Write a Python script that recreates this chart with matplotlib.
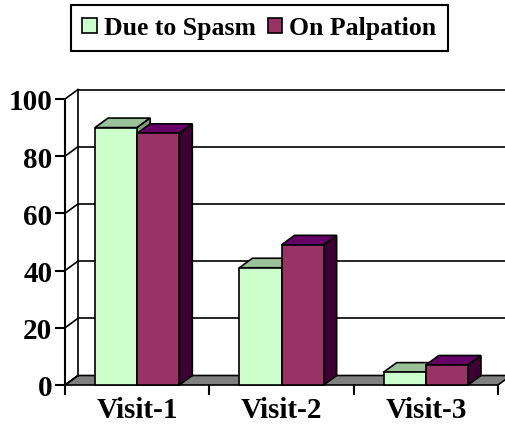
import numpy as np
import matplotlib.pyplot as plt
from matplotlib.patches import Polygon, Patch

# Data
categories = ['Visit-1', 'Visit-2', 'Visit-3']
series_names = ['Due to Spasm', 'On Palpation']
due_to_spasm = [90, 41, 4.5]
on_palpation = [88, 49, 7]
y_ticks = [0, 20, 40, 60, 80, 100]

# Colours (front, top, side)
colors = [('#CCFFCC', '#99C299', '#7FA07F'),
          ('#993366', '#660066', '#3D0033')]

plt.rcParams['font.family'] = ['Liberation Serif', 'DejaVu Serif']
plt.rcParams['font.weight'] = 'bold'

W, H = 506, 427
fig = plt.figure(figsize=(W / 100, H / 100), dpi=100)
# front plane of the chart, in pixels
left, right, y0, y100 = 65, 498, 386, 100
ax = fig.add_axes([left / W, (H - y0) / H, (right - left) / W, (y0 - y100) / H])
ax.set_xlim(0, len(categories))
ax.set_ylim(0, 100)

# depth offset (pixels -> data units)
DX, DY = 13, 9.5
ddx = DX * len(categories) / (right - left)
ddy = DY * 100 / (y0 - y100)

# floor
ax.add_patch(Polygon([(0, 0), (3, 0), (3 + ddx, ddy), (ddx, ddy)], closed=True,
                     facecolor='#808080', edgecolor='black', lw=1.2, clip_on=False, zorder=1))
# back wall + side wall grid
for v in y_ticks[1:]:
    ax.plot([ddx, 3 + ddx + 1], [v + ddy, v + ddy], color='black', lw=1.2, clip_on=False, zorder=1)
for v in y_ticks:
    ax.plot([0, ddx], [v, v + ddy], color='black', lw=1.2, clip_on=False, zorder=1)
ax.plot([ddx, ddx], [ddy, 100 + ddy], color='black', lw=1.2, clip_on=False, zorder=1)

# bars
bw = 0.292
start = 0.208
for j, vals in enumerate([due_to_spasm, on_palpation]):
    front, top, side = colors[j]
    for i, h in enumerate(vals):
        x0 = i + start + j * bw
        x1 = x0 + bw
        z = 3 + j
        ax.add_patch(Polygon([(x0, h), (x1, h), (x1 + ddx, h + ddy), (x0 + ddx, h + ddy)],
                             facecolor=top, edgecolor='black', lw=1.2, clip_on=False, zorder=z))
        ax.add_patch(Polygon([(x1, 0), (x1 + ddx, ddy), (x1 + ddx, h + ddy), (x1, h)],
                             facecolor=side, edgecolor='black', lw=1.2, clip_on=False, zorder=z))
        ax.add_patch(Polygon([(x0, 0), (x1, 0), (x1, h), (x0, h)],
                             facecolor=front, edgecolor='black', lw=1.2, clip_on=False, zorder=z))

# axes styling
for s in ['top', 'right']:
    ax.spines[s].set_visible(False)
ax.spines['left'].set_linewidth(1.5)
ax.spines['bottom'].set_visible(False)
ax.patch.set_visible(False)
ax.set_yticks(y_ticks)
ax.tick_params(axis='y', length=7, width=1.5, labelsize=21, pad=2)
ax.set_xticks([0, 1, 2, 3])
ax.set_xticklabels([])
ax.tick_params(axis='x', which='major', length=7, width=1.5, direction='out')
ax.set_xticks([0.5, 1.5, 2.5], minor=True)
ax.set_xticklabels(categories, minor=True)
ax.tick_params(axis='x', which='minor', length=0, labelsize=21, pad=8)
for lab in ax.get_xticklabels(minor=True) + ax.get_yticklabels():
    lab.set_fontweight('bold')

# legend
handles = [Patch(facecolor=colors[k][0], edgecolor='black', lw=1.2) for k in range(2)]
leg = fig.legend(handles, series_names, loc='center', ncol=2,
                 bbox_to_anchor=(259.5 / W, 1 - 29 / H), prop={'size': 18.5, 'weight': 'bold'},
                 frameon=True, fancybox=False, framealpha=1, edgecolor='black',
                 handlelength=0.55, handleheight=0.55, handletextpad=0.3, columnspacing=0.45,
                 borderpad=0.45, borderaxespad=0)
leg.get_frame().set_linewidth(1.5)

fig.savefig('out.png', dpi=100)
